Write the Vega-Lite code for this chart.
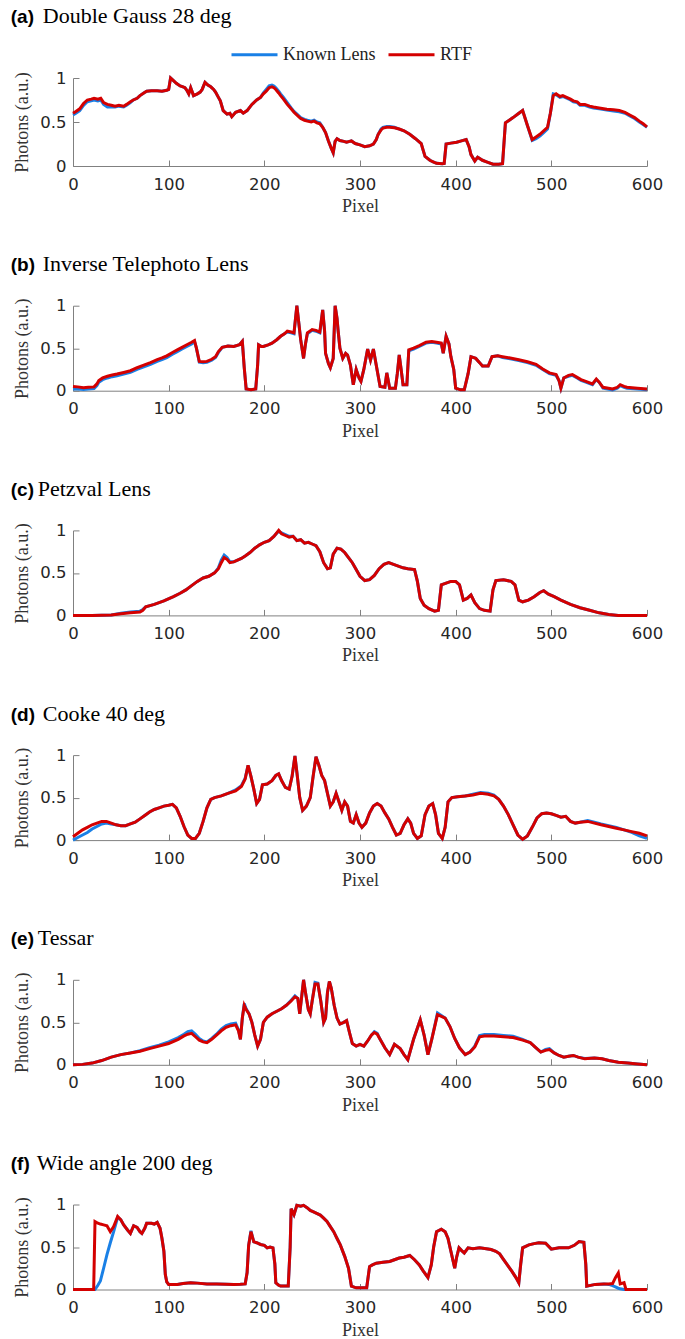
{
"$schema":"https://vega.github.io/schema/vega-lite/v6.json",
"background":"white",
"padding":{"left":10,"top":5,"right":5,"bottom":3},
"spacing":36.7,
"resolve":{"scale":{"color":"independent"}},
"config":{
"view":{"stroke":null},
"axis":{"grid":false,"labelFlush":false,"domainColor":"#808080","domainWidth":1,"tickColor":"#808080","tickWidth":1,"tickSize":-6,"labelFont":"DejaVu Sans","labelFontSize":16.5,"labelColor":"#262626","titleFont":"Liberation Serif","titleFontSize":18,"titleFontWeight":"normal","titleColor":"#333333"},
"axisX":{"labelPadding":16,"titlePadding":5},
"axisY":{"labelPadding":13,"titlePadding":8},
"title":{"anchor":"start","frame":"bounds","font":"Liberation Serif","fontSize":22,"fontWeight":"normal","color":"#000000","subtitleFont":"Liberation Sans","subtitleFontSize":19,"subtitleFontWeight":"bold","subtitleColor":"#000000","subtitlePadding":-20,"offset":21.5},
"legend":{"orient":"none","legendX":157,"legendY":-48,"direction":"horizontal","labelFont":"Liberation Serif","labelFontSize":18,"labelColor":"#222222","symbolType":"stroke","symbolSize":2116,"symbolStrokeWidth":3,"labelOffset":4,"columnPadding":6,"padding":0},
"style":{"group-subtitle":{"dx":-3},"ta":{"dx":29},"tb":{"dx":29},"tc":{"dx":24},"td":{"dx":29},"te":{"dx":24},"tf":{"dx":23}}
},
"datasets":{"d":[
{"p":"a","x":0,"k":0.58,"r":0.6},{"p":"a","x":3,"k":0.6,"r":0.62},{"p":"a","x":7,"k":0.63,"r":0.65},{"p":"a","x":11,"k":0.69,"r":0.71},{"p":"a","x":15,"k":0.73,"r":0.75},{"p":"a","x":19,"k":0.74,"r":0.76},{"p":"a","x":22,"k":0.75,"r":0.77},{"p":"a","x":26,"k":0.74,"r":0.76},{"p":"a","x":29,"k":0.75,"r":0.77},{"p":"a","x":32,"k":0.7,"r":0.72},{"p":"a","x":36,"k":0.67,"r":0.7},{"p":"a","x":40,"k":0.67,"r":0.69},{"p":"a","x":44,"k":0.67,"r":0.68},{"p":"a","x":48,"k":0.68,"r":0.69},{"p":"a","x":53,"k":0.67,"r":0.68},{"p":"a","x":56,"k":0.69,"r":0.7},{"p":"a","x":60,"k":0.72,"r":0.73},{"p":"a","x":63,"k":0.75,"r":0.75},{"p":"a","x":67,"k":0.77,"r":0.77},{"p":"a","x":70,"k":0.8,"r":0.8},{"p":"a","x":74,"k":0.83,"r":0.83},{"p":"a","x":77,"k":0.85,"r":0.85},{"p":"a","x":82,"k":0.855,"r":0.855},{"p":"a","x":88,"k":0.855,"r":0.855},{"p":"a","x":93,"k":0.85,"r":0.85},{"p":"a","x":98,"k":0.86,"r":0.86},{"p":"a","x":100,"k":0.87,"r":0.87},{"p":"a","x":102,"k":1.0,"r":1.0},{"p":"a","x":105,"k":0.97,"r":0.97},{"p":"a","x":108,"k":0.94,"r":0.94},{"p":"a","x":112,"k":0.91,"r":0.91},{"p":"a","x":115,"k":0.9,"r":0.9},{"p":"a","x":117,"k":0.89,"r":0.89},{"p":"a","x":119,"k":0.86,"r":0.86},{"p":"a","x":121,"k":0.82,"r":0.82},{"p":"a","x":123,"k":0.89,"r":0.89},{"p":"a","x":126,"k":0.8,"r":0.8},{"p":"a","x":130,"k":0.82,"r":0.82},{"p":"a","x":133,"k":0.84,"r":0.84},{"p":"a","x":135,"k":0.87,"r":0.87},{"p":"a","x":138,"k":0.95,"r":0.95},{"p":"a","x":141,"k":0.92,"r":0.92},{"p":"a","x":144,"k":0.9,"r":0.9},{"p":"a","x":147,"k":0.87,"r":0.87},{"p":"a","x":149,"k":0.84,"r":0.84},{"p":"a","x":152,"k":0.78,"r":0.78},{"p":"a","x":154,"k":0.74,"r":0.74},{"p":"a","x":157,"k":0.63,"r":0.63},{"p":"a","x":161,"k":0.59,"r":0.59},{"p":"a","x":164,"k":0.6,"r":0.6},{"p":"a","x":166,"k":0.56,"r":0.56},{"p":"a","x":170,"k":0.61,"r":0.61},{"p":"a","x":175,"k":0.63,"r":0.63},{"p":"a","x":178,"k":0.6,"r":0.6},{"p":"a","x":182,"k":0.63,"r":0.63},{"p":"a","x":187,"k":0.7,"r":0.7},{"p":"a","x":192,"k":0.75,"r":0.75},{"p":"a","x":196,"k":0.78,"r":0.78},{"p":"a","x":199,"k":0.83,"r":0.82},{"p":"a","x":202,"k":0.87,"r":0.85},{"p":"a","x":205,"k":0.91,"r":0.89},{"p":"a","x":208,"k":0.92,"r":0.9},{"p":"a","x":210,"k":0.91,"r":0.89},{"p":"a","x":212,"k":0.89,"r":0.87},{"p":"a","x":215,"k":0.85,"r":0.83},{"p":"a","x":217,"k":0.82,"r":0.8},{"p":"a","x":220,"k":0.78,"r":0.76},{"p":"a","x":224,"k":0.72,"r":0.7},{"p":"a","x":228,"k":0.66,"r":0.65},{"p":"a","x":231,"k":0.62,"r":0.61},{"p":"a","x":235,"k":0.58,"r":0.57},{"p":"a","x":238,"k":0.55,"r":0.54},{"p":"a","x":242,"k":0.53,"r":0.52},{"p":"a","x":245,"k":0.52,"r":0.51},{"p":"a","x":249,"k":0.51,"r":0.5},{"p":"a","x":252,"k":0.52,"r":0.51},{"p":"a","x":255,"k":0.5,"r":0.49},{"p":"a","x":258,"k":0.49,"r":0.48},{"p":"a","x":261,"k":0.44,"r":0.44},{"p":"a","x":264,"k":0.38,"r":0.38},{"p":"a","x":267,"k":0.285,"r":0.285},{"p":"a","x":270,"k":0.2,"r":0.2},{"p":"a","x":272,"k":0.15,"r":0.15},{"p":"a","x":274,"k":0.28,"r":0.28},{"p":"a","x":276,"k":0.31,"r":0.31},{"p":"a","x":279,"k":0.29,"r":0.29},{"p":"a","x":283,"k":0.28,"r":0.28},{"p":"a","x":286,"k":0.27,"r":0.27},{"p":"a","x":289,"k":0.28,"r":0.28},{"p":"a","x":291,"k":0.285,"r":0.285},{"p":"a","x":295,"k":0.255,"r":0.255},{"p":"a","x":300,"k":0.24,"r":0.24},{"p":"a","x":305,"k":0.22,"r":0.22},{"p":"a","x":310,"k":0.23,"r":0.23},{"p":"a","x":314,"k":0.25,"r":0.25},{"p":"a","x":317,"k":0.3,"r":0.3},{"p":"a","x":319,"k":0.36,"r":0.36},{"p":"a","x":322,"k":0.42,"r":0.41},{"p":"a","x":324,"k":0.44,"r":0.43},{"p":"a","x":328,"k":0.45,"r":0.44},{"p":"a","x":331,"k":0.45,"r":0.44},{"p":"a","x":336,"k":0.44,"r":0.435},{"p":"a","x":341,"k":0.42,"r":0.42},{"p":"a","x":346,"k":0.4,"r":0.4},{"p":"a","x":352,"k":0.36,"r":0.36},{"p":"a","x":358,"k":0.31,"r":0.31},{"p":"a","x":364,"k":0.255,"r":0.255},{"p":"a","x":366,"k":0.18,"r":0.18},{"p":"a","x":368,"k":0.11,"r":0.11},{"p":"a","x":373,"k":0.065,"r":0.065},{"p":"a","x":377,"k":0.045,"r":0.045},{"p":"a","x":380,"k":0.03,"r":0.03},{"p":"a","x":386,"k":0.027,"r":0.027},{"p":"a","x":388,"k":0.03,"r":0.03},{"p":"a","x":390,"k":0.25,"r":0.25},{"p":"a","x":395,"k":0.26,"r":0.26},{"p":"a","x":401,"k":0.27,"r":0.27},{"p":"a","x":406,"k":0.285,"r":0.285},{"p":"a","x":411,"k":0.3,"r":0.3},{"p":"a","x":414,"k":0.22,"r":0.22},{"p":"a","x":416,"k":0.13,"r":0.13},{"p":"a","x":420,"k":0.057,"r":0.057},{"p":"a","x":423,"k":0.1,"r":0.1},{"p":"a","x":428,"k":0.065,"r":0.065},{"p":"a","x":433,"k":0.045,"r":0.045},{"p":"a","x":439,"k":0.02,"r":0.02},{"p":"a","x":445,"k":0.02,"r":0.02},{"p":"a","x":449,"k":0.027,"r":0.027},{"p":"a","x":452,"k":0.49,"r":0.49},{"p":"a","x":456,"k":0.52,"r":0.52},{"p":"a","x":460,"k":0.55,"r":0.55},{"p":"a","x":465,"k":0.59,"r":0.59},{"p":"a","x":470,"k":0.63,"r":0.63},{"p":"a","x":475,"k":0.46,"r":0.46},{"p":"a","x":480,"k":0.29,"r":0.3},{"p":"a","x":484,"k":0.31,"r":0.33},{"p":"a","x":488,"k":0.34,"r":0.36},{"p":"a","x":492,"k":0.38,"r":0.4},{"p":"a","x":496,"k":0.42,"r":0.44},{"p":"a","x":499,"k":0.6,"r":0.6},{"p":"a","x":502,"k":0.82,"r":0.8},{"p":"a","x":505,"k":0.81,"r":0.82},{"p":"a","x":509,"k":0.78,"r":0.79},{"p":"a","x":512,"k":0.79,"r":0.8},{"p":"a","x":516,"k":0.77,"r":0.78},{"p":"a","x":520,"k":0.75,"r":0.76},{"p":"a","x":523,"k":0.73,"r":0.74},{"p":"a","x":527,"k":0.72,"r":0.73},{"p":"a","x":530,"k":0.69,"r":0.7},{"p":"a","x":535,"k":0.69,"r":0.7},{"p":"a","x":540,"k":0.67,"r":0.68},{"p":"a","x":544,"k":0.66,"r":0.67},{"p":"a","x":550,"k":0.65,"r":0.66},{"p":"a","x":558,"k":0.635,"r":0.645},{"p":"a","x":565,"k":0.625,"r":0.64},{"p":"a","x":571,"k":0.615,"r":0.63},{"p":"a","x":577,"k":0.6,"r":0.61},{"p":"a","x":582,"k":0.57,"r":0.58},{"p":"a","x":587,"k":0.54,"r":0.55},{"p":"a","x":592,"k":0.5,"r":0.51},{"p":"a","x":596,"k":0.47,"r":0.48},{"p":"a","x":600,"k":0.44,"r":0.445},
{"p":"b","x":0,"k":0.02,"r":0.05},{"p":"b","x":5,"k":0.02,"r":0.045},{"p":"b","x":11,"k":0.015,"r":0.035},{"p":"b","x":16,"k":0.02,"r":0.04},{"p":"b","x":22,"k":0.025,"r":0.045},{"p":"b","x":25,"k":0.06,"r":0.08},{"p":"b","x":27,"k":0.1,"r":0.12},{"p":"b","x":31,"k":0.13,"r":0.15},{"p":"b","x":36,"k":0.15,"r":0.17},{"p":"b","x":41,"k":0.165,"r":0.185},{"p":"b","x":46,"k":0.175,"r":0.196},{"p":"b","x":53,"k":0.195,"r":0.215},{"p":"b","x":60,"k":0.215,"r":0.235},{"p":"b","x":67,"k":0.25,"r":0.27},{"p":"b","x":74,"k":0.28,"r":0.3},{"p":"b","x":81,"k":0.31,"r":0.33},{"p":"b","x":88,"k":0.345,"r":0.365},{"p":"b","x":93,"k":0.365,"r":0.385},{"p":"b","x":98,"k":0.39,"r":0.41},{"p":"b","x":104,"k":0.43,"r":0.45},{"p":"b","x":109,"k":0.46,"r":0.48},{"p":"b","x":114,"k":0.49,"r":0.51},{"p":"b","x":119,"k":0.52,"r":0.54},{"p":"b","x":124,"k":0.55,"r":0.57},{"p":"b","x":127,"k":0.58,"r":0.59},{"p":"b","x":129,"k":0.5,"r":0.5},{"p":"b","x":132,"k":0.335,"r":0.345},{"p":"b","x":136,"k":0.33,"r":0.34},{"p":"b","x":140,"k":0.335,"r":0.345},{"p":"b","x":145,"k":0.36,"r":0.37},{"p":"b","x":149,"k":0.39,"r":0.4},{"p":"b","x":152,"k":0.45,"r":0.46},{"p":"b","x":156,"k":0.51,"r":0.51},{"p":"b","x":162,"k":0.525,"r":0.525},{"p":"b","x":168,"k":0.52,"r":0.52},{"p":"b","x":174,"k":0.54,"r":0.54},{"p":"b","x":177,"k":0.58,"r":0.58},{"p":"b","x":179,"k":0.27,"r":0.27},{"p":"b","x":181,"k":0.02,"r":0.02},{"p":"b","x":186,"k":0.01,"r":0.01},{"p":"b","x":191,"k":0.02,"r":0.02},{"p":"b","x":193,"k":0.3,"r":0.3},{"p":"b","x":194,"k":0.54,"r":0.54},{"p":"b","x":197,"k":0.52,"r":0.52},{"p":"b","x":199,"k":0.52,"r":0.52},{"p":"b","x":204,"k":0.54,"r":0.54},{"p":"b","x":208,"k":0.56,"r":0.56},{"p":"b","x":213,"k":0.6,"r":0.6},{"p":"b","x":217,"k":0.64,"r":0.64},{"p":"b","x":221,"k":0.67,"r":0.67},{"p":"b","x":224,"k":0.69,"r":0.7},{"p":"b","x":228,"k":0.68,"r":0.69},{"p":"b","x":231,"k":0.67,"r":0.68},{"p":"b","x":234,"k":1.0,"r":1.0},{"p":"b","x":236,"k":0.8,"r":0.8},{"p":"b","x":238,"k":0.6,"r":0.6},{"p":"b","x":241,"k":0.38,"r":0.38},{"p":"b","x":243,"k":0.55,"r":0.55},{"p":"b","x":245,"k":0.67,"r":0.68},{"p":"b","x":250,"k":0.71,"r":0.72},{"p":"b","x":254,"k":0.7,"r":0.71},{"p":"b","x":258,"k":0.68,"r":0.69},{"p":"b","x":261,"k":0.95,"r":0.95},{"p":"b","x":263,"k":0.7,"r":0.7},{"p":"b","x":264,"k":0.44,"r":0.44},{"p":"b","x":267,"k":0.32,"r":0.32},{"p":"b","x":269,"k":0.27,"r":0.27},{"p":"b","x":272,"k":0.38,"r":0.38},{"p":"b","x":274,"k":1.0,"r":1.0},{"p":"b","x":276,"k":0.85,"r":0.85},{"p":"b","x":277,"k":0.72,"r":0.72},{"p":"b","x":279,"k":0.5,"r":0.5},{"p":"b","x":282,"k":0.38,"r":0.38},{"p":"b","x":285,"k":0.44,"r":0.44},{"p":"b","x":287,"k":0.42,"r":0.42},{"p":"b","x":290,"k":0.3,"r":0.3},{"p":"b","x":293,"k":0.07,"r":0.07},{"p":"b","x":296,"k":0.25,"r":0.25},{"p":"b","x":299,"k":0.15,"r":0.15},{"p":"b","x":301,"k":0.11,"r":0.11},{"p":"b","x":304,"k":0.25,"r":0.25},{"p":"b","x":308,"k":0.49,"r":0.49},{"p":"b","x":311,"k":0.36,"r":0.36},{"p":"b","x":314,"k":0.49,"r":0.49},{"p":"b","x":317,"k":0.3,"r":0.3},{"p":"b","x":321,"k":0.05,"r":0.05},{"p":"b","x":326,"k":0.04,"r":0.04},{"p":"b","x":328,"k":0.21,"r":0.21},{"p":"b","x":331,"k":0.03,"r":0.03},{"p":"b","x":337,"k":0.03,"r":0.03},{"p":"b","x":339,"k":0.2,"r":0.2},{"p":"b","x":341,"k":0.42,"r":0.42},{"p":"b","x":343,"k":0.25,"r":0.25},{"p":"b","x":345,"k":0.07,"r":0.07},{"p":"b","x":349,"k":0.07,"r":0.07},{"p":"b","x":351,"k":0.47,"r":0.48},{"p":"b","x":356,"k":0.49,"r":0.5},{"p":"b","x":362,"k":0.52,"r":0.53},{"p":"b","x":369,"k":0.56,"r":0.57},{"p":"b","x":375,"k":0.57,"r":0.58},{"p":"b","x":380,"k":0.56,"r":0.57},{"p":"b","x":385,"k":0.55,"r":0.56},{"p":"b","x":387,"k":0.44,"r":0.44},{"p":"b","x":390,"k":0.64,"r":0.64},{"p":"b","x":393,"k":0.55,"r":0.55},{"p":"b","x":395,"k":0.4,"r":0.4},{"p":"b","x":398,"k":0.25,"r":0.25},{"p":"b","x":400,"k":0.03,"r":0.03},{"p":"b","x":405,"k":0.01,"r":0.01},{"p":"b","x":409,"k":0.01,"r":0.01},{"p":"b","x":413,"k":0.2,"r":0.2},{"p":"b","x":416,"k":0.4,"r":0.4},{"p":"b","x":421,"k":0.38,"r":0.38},{"p":"b","x":425,"k":0.33,"r":0.33},{"p":"b","x":428,"k":0.29,"r":0.29},{"p":"b","x":434,"k":0.29,"r":0.29},{"p":"b","x":438,"k":0.4,"r":0.4},{"p":"b","x":444,"k":0.41,"r":0.41},{"p":"b","x":449,"k":0.39,"r":0.4},{"p":"b","x":457,"k":0.375,"r":0.385},{"p":"b","x":466,"k":0.355,"r":0.365},{"p":"b","x":475,"k":0.33,"r":0.34},{"p":"b","x":484,"k":0.3,"r":0.31},{"p":"b","x":491,"k":0.25,"r":0.255},{"p":"b","x":498,"k":0.2,"r":0.21},{"p":"b","x":505,"k":0.18,"r":0.19},{"p":"b","x":508,"k":0.12,"r":0.12},{"p":"b","x":510,"k":0.03,"r":0.03},{"p":"b","x":513,"k":0.15,"r":0.15},{"p":"b","x":518,"k":0.17,"r":0.18},{"p":"b","x":522,"k":0.18,"r":0.19},{"p":"b","x":527,"k":0.15,"r":0.157},{"p":"b","x":531,"k":0.12,"r":0.13},{"p":"b","x":536,"k":0.1,"r":0.11},{"p":"b","x":543,"k":0.07,"r":0.08},{"p":"b","x":547,"k":0.13,"r":0.137},{"p":"b","x":550,"k":0.1,"r":0.1},{"p":"b","x":554,"k":0.03,"r":0.04},{"p":"b","x":564,"k":0.01,"r":0.02},{"p":"b","x":569,"k":0.03,"r":0.04},{"p":"b","x":572,"k":0.06,"r":0.07},{"p":"b","x":576,"k":0.04,"r":0.05},{"p":"b","x":579,"k":0.03,"r":0.04},{"p":"b","x":590,"k":0.02,"r":0.03},{"p":"b","x":600,"k":0.01,"r":0.02},
{"p":"c","x":0,"k":0,"r":0},{"p":"c","x":20,"k":0,"r":0},{"p":"c","x":40,"k":0.005,"r":0.005},{"p":"c","x":50,"k":0.025,"r":0.02},{"p":"c","x":60,"k":0.04,"r":0.03},{"p":"c","x":70,"k":0.05,"r":0.04},{"p":"c","x":73,"k":0.07,"r":0.06},{"p":"c","x":76,"k":0.1,"r":0.1},{"p":"c","x":85,"k":0.13,"r":0.13},{"p":"c","x":95,"k":0.17,"r":0.17},{"p":"c","x":105,"k":0.22,"r":0.22},{"p":"c","x":112,"k":0.26,"r":0.26},{"p":"c","x":118,"k":0.3,"r":0.3},{"p":"c","x":124,"k":0.35,"r":0.35},{"p":"c","x":130,"k":0.4,"r":0.4},{"p":"c","x":136,"k":0.44,"r":0.44},{"p":"c","x":142,"k":0.46,"r":0.46},{"p":"c","x":148,"k":0.5,"r":0.5},{"p":"c","x":152,"k":0.56,"r":0.55},{"p":"c","x":155,"k":0.65,"r":0.62},{"p":"c","x":158,"k":0.71,"r":0.68},{"p":"c","x":161,"k":0.68,"r":0.66},{"p":"c","x":164,"k":0.63,"r":0.62},{"p":"c","x":168,"k":0.63,"r":0.63},{"p":"c","x":172,"k":0.65,"r":0.65},{"p":"c","x":176,"k":0.67,"r":0.67},{"p":"c","x":180,"k":0.7,"r":0.7},{"p":"c","x":185,"k":0.74,"r":0.74},{"p":"c","x":190,"k":0.79,"r":0.79},{"p":"c","x":195,"k":0.83,"r":0.83},{"p":"c","x":200,"k":0.86,"r":0.86},{"p":"c","x":205,"k":0.88,"r":0.88},{"p":"c","x":210,"k":0.93,"r":0.93},{"p":"c","x":215,"k":0.99,"r":1.0},{"p":"c","x":218,"k":0.97,"r":0.96},{"p":"c","x":222,"k":0.95,"r":0.94},{"p":"c","x":226,"k":0.93,"r":0.92},{"p":"c","x":230,"k":0.93,"r":0.93},{"p":"c","x":234,"k":0.88,"r":0.88},{"p":"c","x":238,"k":0.89,"r":0.89},{"p":"c","x":242,"k":0.85,"r":0.85},{"p":"c","x":246,"k":0.86,"r":0.86},{"p":"c","x":250,"k":0.84,"r":0.84},{"p":"c","x":254,"k":0.82,"r":0.82},{"p":"c","x":258,"k":0.75,"r":0.75},{"p":"c","x":262,"k":0.62,"r":0.62},{"p":"c","x":266,"k":0.55,"r":0.55},{"p":"c","x":269,"k":0.56,"r":0.56},{"p":"c","x":272,"k":0.72,"r":0.72},{"p":"c","x":276,"k":0.79,"r":0.79},{"p":"c","x":280,"k":0.78,"r":0.78},{"p":"c","x":284,"k":0.74,"r":0.74},{"p":"c","x":288,"k":0.68,"r":0.68},{"p":"c","x":292,"k":0.62,"r":0.62},{"p":"c","x":296,"k":0.54,"r":0.54},{"p":"c","x":300,"k":0.46,"r":0.46},{"p":"c","x":305,"k":0.41,"r":0.41},{"p":"c","x":310,"k":0.42,"r":0.42},{"p":"c","x":315,"k":0.47,"r":0.47},{"p":"c","x":320,"k":0.55,"r":0.55},{"p":"c","x":325,"k":0.6,"r":0.6},{"p":"c","x":330,"k":0.62,"r":0.62},{"p":"c","x":335,"k":0.6,"r":0.6},{"p":"c","x":340,"k":0.58,"r":0.58},{"p":"c","x":345,"k":0.56,"r":0.56},{"p":"c","x":350,"k":0.55,"r":0.55},{"p":"c","x":357,"k":0.54,"r":0.54},{"p":"c","x":360,"k":0.4,"r":0.4},{"p":"c","x":363,"k":0.2,"r":0.2},{"p":"c","x":367,"k":0.12,"r":0.12},{"p":"c","x":372,"k":0.08,"r":0.08},{"p":"c","x":378,"k":0.05,"r":0.05},{"p":"c","x":382,"k":0.06,"r":0.06},{"p":"c","x":385,"k":0.36,"r":0.36},{"p":"c","x":390,"k":0.38,"r":0.38},{"p":"c","x":395,"k":0.4,"r":0.4},{"p":"c","x":400,"k":0.4,"r":0.4},{"p":"c","x":404,"k":0.36,"r":0.36},{"p":"c","x":408,"k":0.18,"r":0.18},{"p":"c","x":412,"k":0.2,"r":0.2},{"p":"c","x":416,"k":0.24,"r":0.24},{"p":"c","x":420,"k":0.15,"r":0.15},{"p":"c","x":425,"k":0.08,"r":0.08},{"p":"c","x":430,"k":0.06,"r":0.06},{"p":"c","x":436,"k":0.05,"r":0.05},{"p":"c","x":439,"k":0.3,"r":0.3},{"p":"c","x":442,"k":0.41,"r":0.41},{"p":"c","x":450,"k":0.42,"r":0.42},{"p":"c","x":458,"k":0.4,"r":0.4},{"p":"c","x":462,"k":0.36,"r":0.36},{"p":"c","x":466,"k":0.18,"r":0.18},{"p":"c","x":470,"k":0.16,"r":0.16},{"p":"c","x":476,"k":0.18,"r":0.18},{"p":"c","x":482,"k":0.22,"r":0.22},{"p":"c","x":488,"k":0.27,"r":0.27},{"p":"c","x":492,"k":0.29,"r":0.29},{"p":"c","x":497,"k":0.25,"r":0.25},{"p":"c","x":503,"k":0.22,"r":0.22},{"p":"c","x":510,"k":0.18,"r":0.18},{"p":"c","x":520,"k":0.13,"r":0.13},{"p":"c","x":530,"k":0.09,"r":0.09},{"p":"c","x":540,"k":0.06,"r":0.06},{"p":"c","x":550,"k":0.03,"r":0.03},{"p":"c","x":560,"k":0.01,"r":0.01},{"p":"c","x":570,"k":0,"r":0},{"p":"c","x":600,"k":0,"r":0},
{"p":"d","x":0,"k":0.0,"r":0.04},{"p":"d","x":5,"k":0.03,"r":0.08},{"p":"d","x":10,"k":0.06,"r":0.12},{"p":"d","x":15,"k":0.09,"r":0.15},{"p":"d","x":20,"k":0.13,"r":0.18},{"p":"d","x":25,"k":0.16,"r":0.2},{"p":"d","x":30,"k":0.19,"r":0.22},{"p":"d","x":35,"k":0.2,"r":0.22},{"p":"d","x":40,"k":0.19,"r":0.2},{"p":"d","x":45,"k":0.18,"r":0.18},{"p":"d","x":50,"k":0.17,"r":0.17},{"p":"d","x":55,"k":0.17,"r":0.17},{"p":"d","x":60,"k":0.19,"r":0.19},{"p":"d","x":65,"k":0.21,"r":0.21},{"p":"d","x":70,"k":0.25,"r":0.25},{"p":"d","x":75,"k":0.29,"r":0.29},{"p":"d","x":80,"k":0.33,"r":0.33},{"p":"d","x":85,"k":0.36,"r":0.36},{"p":"d","x":90,"k":0.38,"r":0.38},{"p":"d","x":95,"k":0.4,"r":0.4},{"p":"d","x":100,"k":0.41,"r":0.41},{"p":"d","x":104,"k":0.42,"r":0.42},{"p":"d","x":108,"k":0.38,"r":0.38},{"p":"d","x":112,"k":0.28,"r":0.28},{"p":"d","x":116,"k":0.16,"r":0.16},{"p":"d","x":120,"k":0.06,"r":0.06},{"p":"d","x":124,"k":0.02,"r":0.02},{"p":"d","x":128,"k":0.02,"r":0.02},{"p":"d","x":132,"k":0.08,"r":0.08},{"p":"d","x":136,"k":0.22,"r":0.22},{"p":"d","x":140,"k":0.38,"r":0.38},{"p":"d","x":144,"k":0.48,"r":0.48},{"p":"d","x":148,"k":0.5,"r":0.5},{"p":"d","x":155,"k":0.52,"r":0.52},{"p":"d","x":162,"k":0.55,"r":0.55},{"p":"d","x":170,"k":0.59,"r":0.58},{"p":"d","x":176,"k":0.64,"r":0.63},{"p":"d","x":180,"k":0.73,"r":0.72},{"p":"d","x":183,"k":0.88,"r":0.88},{"p":"d","x":186,"k":0.75,"r":0.75},{"p":"d","x":189,"k":0.6,"r":0.6},{"p":"d","x":192,"k":0.43,"r":0.43},{"p":"d","x":195,"k":0.48,"r":0.48},{"p":"d","x":198,"k":0.65,"r":0.65},{"p":"d","x":203,"k":0.66,"r":0.66},{"p":"d","x":208,"k":0.7,"r":0.7},{"p":"d","x":212,"k":0.76,"r":0.76},{"p":"d","x":215,"k":0.78,"r":0.78},{"p":"d","x":218,"k":0.7,"r":0.7},{"p":"d","x":222,"k":0.62,"r":0.62},{"p":"d","x":226,"k":0.6,"r":0.6},{"p":"d","x":229,"k":0.75,"r":0.75},{"p":"d","x":232,"k":0.99,"r":0.99},{"p":"d","x":234,"k":0.8,"r":0.8},{"p":"d","x":237,"k":0.5,"r":0.5},{"p":"d","x":240,"k":0.35,"r":0.35},{"p":"d","x":244,"k":0.4,"r":0.4},{"p":"d","x":248,"k":0.5,"r":0.5},{"p":"d","x":251,"k":0.75,"r":0.75},{"p":"d","x":254,"k":0.98,"r":0.98},{"p":"d","x":257,"k":0.88,"r":0.88},{"p":"d","x":260,"k":0.76,"r":0.76},{"p":"d","x":263,"k":0.7,"r":0.7},{"p":"d","x":266,"k":0.55,"r":0.55},{"p":"d","x":269,"k":0.4,"r":0.4},{"p":"d","x":272,"k":0.45,"r":0.45},{"p":"d","x":275,"k":0.55,"r":0.55},{"p":"d","x":278,"k":0.45,"r":0.45},{"p":"d","x":281,"k":0.35,"r":0.35},{"p":"d","x":284,"k":0.45,"r":0.45},{"p":"d","x":287,"k":0.4,"r":0.4},{"p":"d","x":290,"k":0.22,"r":0.22},{"p":"d","x":293,"k":0.2,"r":0.2},{"p":"d","x":296,"k":0.3,"r":0.3},{"p":"d","x":299,"k":0.2,"r":0.2},{"p":"d","x":302,"k":0.15,"r":0.15},{"p":"d","x":306,"k":0.2,"r":0.2},{"p":"d","x":310,"k":0.32,"r":0.32},{"p":"d","x":314,"k":0.4,"r":0.4},{"p":"d","x":318,"k":0.43,"r":0.43},{"p":"d","x":322,"k":0.4,"r":0.4},{"p":"d","x":326,"k":0.32,"r":0.32},{"p":"d","x":330,"k":0.25,"r":0.25},{"p":"d","x":334,"k":0.15,"r":0.15},{"p":"d","x":338,"k":0.06,"r":0.06},{"p":"d","x":342,"k":0.08,"r":0.08},{"p":"d","x":346,"k":0.18,"r":0.18},{"p":"d","x":350,"k":0.25,"r":0.25},{"p":"d","x":353,"k":0.2,"r":0.2},{"p":"d","x":356,"k":0.08,"r":0.08},{"p":"d","x":360,"k":0.02,"r":0.02},{"p":"d","x":364,"k":0.05,"r":0.05},{"p":"d","x":368,"k":0.3,"r":0.3},{"p":"d","x":372,"k":0.4,"r":0.4},{"p":"d","x":376,"k":0.43,"r":0.43},{"p":"d","x":379,"k":0.3,"r":0.3},{"p":"d","x":382,"k":0.08,"r":0.08},{"p":"d","x":386,"k":0.02,"r":0.02},{"p":"d","x":389,"k":0.15,"r":0.15},{"p":"d","x":392,"k":0.45,"r":0.45},{"p":"d","x":396,"k":0.5,"r":0.5},{"p":"d","x":402,"k":0.51,"r":0.51},{"p":"d","x":410,"k":0.52,"r":0.52},{"p":"d","x":418,"k":0.54,"r":0.53},{"p":"d","x":426,"k":0.56,"r":0.55},{"p":"d","x":434,"k":0.55,"r":0.54},{"p":"d","x":440,"k":0.53,"r":0.52},{"p":"d","x":445,"k":0.48,"r":0.48},{"p":"d","x":450,"k":0.4,"r":0.4},{"p":"d","x":455,"k":0.3,"r":0.3},{"p":"d","x":460,"k":0.18,"r":0.18},{"p":"d","x":465,"k":0.06,"r":0.06},{"p":"d","x":470,"k":0.01,"r":0.01},{"p":"d","x":475,"k":0.05,"r":0.05},{"p":"d","x":480,"k":0.15,"r":0.15},{"p":"d","x":485,"k":0.26,"r":0.26},{"p":"d","x":490,"k":0.31,"r":0.31},{"p":"d","x":495,"k":0.32,"r":0.32},{"p":"d","x":500,"k":0.31,"r":0.31},{"p":"d","x":505,"k":0.29,"r":0.29},{"p":"d","x":510,"k":0.27,"r":0.27},{"p":"d","x":515,"k":0.28,"r":0.28},{"p":"d","x":520,"k":0.22,"r":0.22},{"p":"d","x":525,"k":0.2,"r":0.2},{"p":"d","x":530,"k":0.21,"r":0.21},{"p":"d","x":538,"k":0.23,"r":0.22},{"p":"d","x":545,"k":0.21,"r":0.2},{"p":"d","x":552,"k":0.19,"r":0.18},{"p":"d","x":560,"k":0.17,"r":0.16},{"p":"d","x":568,"k":0.15,"r":0.14},{"p":"d","x":576,"k":0.12,"r":0.12},{"p":"d","x":584,"k":0.09,"r":0.1},{"p":"d","x":592,"k":0.05,"r":0.08},{"p":"d","x":600,"k":0.02,"r":0.05},
{"p":"e","x":0,"k":0,"r":0},{"p":"e","x":10,"k":0.005,"r":0.005},{"p":"e","x":20,"k":0.02,"r":0.02},{"p":"e","x":30,"k":0.05,"r":0.05},{"p":"e","x":40,"k":0.09,"r":0.09},{"p":"e","x":50,"k":0.12,"r":0.12},{"p":"e","x":60,"k":0.14,"r":0.14},{"p":"e","x":70,"k":0.165,"r":0.16},{"p":"e","x":80,"k":0.2,"r":0.19},{"p":"e","x":90,"k":0.23,"r":0.22},{"p":"e","x":100,"k":0.27,"r":0.25},{"p":"e","x":110,"k":0.32,"r":0.3},{"p":"e","x":116,"k":0.36,"r":0.34},{"p":"e","x":120,"k":0.39,"r":0.36},{"p":"e","x":124,"k":0.4,"r":0.37},{"p":"e","x":128,"k":0.36,"r":0.33},{"p":"e","x":132,"k":0.31,"r":0.29},{"p":"e","x":136,"k":0.28,"r":0.27},{"p":"e","x":140,"k":0.27,"r":0.26},{"p":"e","x":145,"k":0.31,"r":0.3},{"p":"e","x":150,"k":0.36,"r":0.35},{"p":"e","x":155,"k":0.42,"r":0.4},{"p":"e","x":160,"k":0.46,"r":0.44},{"p":"e","x":165,"k":0.48,"r":0.46},{"p":"e","x":170,"k":0.49,"r":0.47},{"p":"e","x":173,"k":0.41,"r":0.4},{"p":"e","x":175,"k":0.3,"r":0.3},{"p":"e","x":177,"k":0.55,"r":0.55},{"p":"e","x":179,"k":0.72,"r":0.7},{"p":"e","x":181,"k":0.66,"r":0.65},{"p":"e","x":184,"k":0.6,"r":0.6},{"p":"e","x":187,"k":0.5,"r":0.5},{"p":"e","x":190,"k":0.35,"r":0.35},{"p":"e","x":193,"k":0.22,"r":0.22},{"p":"e","x":196,"k":0.3,"r":0.3},{"p":"e","x":199,"k":0.5,"r":0.5},{"p":"e","x":203,"k":0.56,"r":0.56},{"p":"e","x":208,"k":0.6,"r":0.6},{"p":"e","x":213,"k":0.63,"r":0.63},{"p":"e","x":218,"k":0.66,"r":0.66},{"p":"e","x":223,"k":0.7,"r":0.7},{"p":"e","x":228,"k":0.76,"r":0.75},{"p":"e","x":232,"k":0.81,"r":0.8},{"p":"e","x":235,"k":0.78,"r":0.78},{"p":"e","x":237,"k":0.6,"r":0.6},{"p":"e","x":239,"k":0.8,"r":0.8},{"p":"e","x":241,"k":1.0,"r":1.0},{"p":"e","x":243,"k":0.85,"r":0.85},{"p":"e","x":246,"k":0.65,"r":0.65},{"p":"e","x":248,"k":0.6,"r":0.6},{"p":"e","x":250,"k":0.75,"r":0.75},{"p":"e","x":253,"k":0.97,"r":0.95},{"p":"e","x":256,"k":0.96,"r":0.95},{"p":"e","x":259,"k":0.75,"r":0.75},{"p":"e","x":262,"k":0.5,"r":0.5},{"p":"e","x":264,"k":0.55,"r":0.55},{"p":"e","x":266,"k":0.85,"r":0.85},{"p":"e","x":268,"k":0.98,"r":0.98},{"p":"e","x":270,"k":0.9,"r":0.9},{"p":"e","x":273,"k":0.7,"r":0.7},{"p":"e","x":276,"k":0.55,"r":0.55},{"p":"e","x":279,"k":0.48,"r":0.48},{"p":"e","x":283,"k":0.5,"r":0.5},{"p":"e","x":286,"k":0.52,"r":0.52},{"p":"e","x":289,"k":0.38,"r":0.38},{"p":"e","x":292,"k":0.25,"r":0.25},{"p":"e","x":296,"k":0.22,"r":0.22},{"p":"e","x":300,"k":0.24,"r":0.24},{"p":"e","x":304,"k":0.22,"r":0.22},{"p":"e","x":308,"k":0.28,"r":0.28},{"p":"e","x":312,"k":0.35,"r":0.35},{"p":"e","x":315,"k":0.39,"r":0.38},{"p":"e","x":318,"k":0.37,"r":0.36},{"p":"e","x":321,"k":0.3,"r":0.3},{"p":"e","x":326,"k":0.2,"r":0.2},{"p":"e","x":331,"k":0.12,"r":0.12},{"p":"e","x":336,"k":0.24,"r":0.24},{"p":"e","x":342,"k":0.19,"r":0.19},{"p":"e","x":346,"k":0.12,"r":0.12},{"p":"e","x":350,"k":0.06,"r":0.06},{"p":"e","x":356,"k":0.3,"r":0.3},{"p":"e","x":363,"k":0.53,"r":0.53},{"p":"e","x":367,"k":0.35,"r":0.35},{"p":"e","x":371,"k":0.12,"r":0.12},{"p":"e","x":375,"k":0.3,"r":0.3},{"p":"e","x":381,"k":0.61,"r":0.59},{"p":"e","x":385,"k":0.58,"r":0.57},{"p":"e","x":389,"k":0.55,"r":0.55},{"p":"e","x":394,"k":0.45,"r":0.45},{"p":"e","x":399,"k":0.31,"r":0.31},{"p":"e","x":404,"k":0.2,"r":0.2},{"p":"e","x":410,"k":0.12,"r":0.12},{"p":"e","x":415,"k":0.15,"r":0.15},{"p":"e","x":420,"k":0.22,"r":0.21},{"p":"e","x":425,"k":0.345,"r":0.33},{"p":"e","x":430,"k":0.355,"r":0.34},{"p":"e","x":440,"k":0.355,"r":0.34},{"p":"e","x":450,"k":0.345,"r":0.33},{"p":"e","x":460,"k":0.335,"r":0.32},{"p":"e","x":470,"k":0.3,"r":0.29},{"p":"e","x":478,"k":0.26,"r":0.26},{"p":"e","x":484,"k":0.2,"r":0.2},{"p":"e","x":489,"k":0.15,"r":0.15},{"p":"e","x":494,"k":0.18,"r":0.17},{"p":"e","x":498,"k":0.19,"r":0.18},{"p":"e","x":503,"k":0.14,"r":0.14},{"p":"e","x":508,"k":0.11,"r":0.11},{"p":"e","x":513,"k":0.09,"r":0.09},{"p":"e","x":518,"k":0.1,"r":0.1},{"p":"e","x":523,"k":0.11,"r":0.11},{"p":"e","x":528,"k":0.09,"r":0.09},{"p":"e","x":535,"k":0.075,"r":0.07},{"p":"e","x":545,"k":0.08,"r":0.08},{"p":"e","x":553,"k":0.07,"r":0.07},{"p":"e","x":560,"k":0.05,"r":0.05},{"p":"e","x":570,"k":0.03,"r":0.03},{"p":"e","x":580,"k":0.02,"r":0.02},{"p":"e","x":590,"k":0.01,"r":0.01},{"p":"e","x":600,"k":0,"r":0},
{"p":"f","x":0,"k":0,"r":0},{"p":"f","x":10,"k":0,"r":0},{"p":"f","x":21.6,"k":0,"r":0},{"p":"f","x":23,"k":0,"r":0.8},{"p":"f","x":26,"k":0.05,"r":0.78},{"p":"f","x":28.6,"k":0.1,"r":0.77},{"p":"f","x":32,"k":0.25,"r":0.76},{"p":"f","x":35.5,"k":0.41,"r":0.75},{"p":"f","x":39,"k":0.55,"r":0.68},{"p":"f","x":42.5,"k":0.68,"r":0.74},{"p":"f","x":46.7,"k":0.85,"r":0.86},{"p":"f","x":50,"k":0.82,"r":0.82},{"p":"f","x":53,"k":0.76,"r":0.76},{"p":"f","x":57,"k":0.7,"r":0.7},{"p":"f","x":60,"k":0.66,"r":0.66},{"p":"f","x":63.4,"k":0.75,"r":0.75},{"p":"f","x":67,"k":0.73,"r":0.73},{"p":"f","x":70,"k":0.68,"r":0.68},{"p":"f","x":72,"k":0.66,"r":0.66},{"p":"f","x":75,"k":0.72,"r":0.72},{"p":"f","x":77,"k":0.78,"r":0.78},{"p":"f","x":82,"k":0.78,"r":0.78},{"p":"f","x":85,"k":0.77,"r":0.77},{"p":"f","x":88,"k":0.79,"r":0.79},{"p":"f","x":91,"k":0.72,"r":0.72},{"p":"f","x":93,"k":0.6,"r":0.6},{"p":"f","x":95,"k":0.45,"r":0.45},{"p":"f","x":96.5,"k":0.175,"r":0.175},{"p":"f","x":98,"k":0.09,"r":0.09},{"p":"f","x":100,"k":0.06,"r":0.06},{"p":"f","x":105,"k":0.06,"r":0.06},{"p":"f","x":109,"k":0.06,"r":0.06},{"p":"f","x":115,"k":0.07,"r":0.07},{"p":"f","x":123,"k":0.078,"r":0.078},{"p":"f","x":130,"k":0.075,"r":0.075},{"p":"f","x":140,"k":0.066,"r":0.066},{"p":"f","x":150,"k":0.065,"r":0.065},{"p":"f","x":160,"k":0.062,"r":0.062},{"p":"f","x":168,"k":0.06,"r":0.06},{"p":"f","x":175,"k":0.062,"r":0.062},{"p":"f","x":180,"k":0.066,"r":0.066},{"p":"f","x":182,"k":0.2,"r":0.2},{"p":"f","x":183.6,"k":0.52,"r":0.52},{"p":"f","x":186,"k":0.69,"r":0.68},{"p":"f","x":189,"k":0.56,"r":0.56},{"p":"f","x":192,"k":0.55,"r":0.55},{"p":"f","x":196,"k":0.53,"r":0.53},{"p":"f","x":200,"k":0.52,"r":0.52},{"p":"f","x":203,"k":0.49,"r":0.49},{"p":"f","x":206,"k":0.5,"r":0.5},{"p":"f","x":209,"k":0.49,"r":0.49},{"p":"f","x":211,"k":0.3,"r":0.3},{"p":"f","x":212,"k":0.078,"r":0.078},{"p":"f","x":215,"k":0.05,"r":0.05},{"p":"f","x":217,"k":0.04,"r":0.04},{"p":"f","x":222,"k":0.04,"r":0.04},{"p":"f","x":225,"k":0.04,"r":0.04},{"p":"f","x":227,"k":0.5,"r":0.5},{"p":"f","x":228,"k":0.95,"r":0.95},{"p":"f","x":231,"k":0.88,"r":0.88},{"p":"f","x":234,"k":0.99,"r":0.99},{"p":"f","x":238,"k":0.98,"r":0.98},{"p":"f","x":241,"k":0.99,"r":0.99},{"p":"f","x":245,"k":0.96,"r":0.96},{"p":"f","x":248,"k":0.93,"r":0.93},{"p":"f","x":252,"k":0.91,"r":0.91},{"p":"f","x":258.5,"k":0.875,"r":0.875},{"p":"f","x":262,"k":0.84,"r":0.84},{"p":"f","x":265.5,"k":0.8,"r":0.8},{"p":"f","x":269,"k":0.74,"r":0.74},{"p":"f","x":272.5,"k":0.68,"r":0.68},{"p":"f","x":276,"k":0.6,"r":0.6},{"p":"f","x":279.4,"k":0.525,"r":0.525},{"p":"f","x":284,"k":0.39,"r":0.39},{"p":"f","x":288,"k":0.25,"r":0.25},{"p":"f","x":291,"k":0.04,"r":0.04},{"p":"f","x":296,"k":0.02,"r":0.02},{"p":"f","x":302,"k":0.02,"r":0.02},{"p":"f","x":307,"k":0.02,"r":0.02},{"p":"f","x":310,"k":0.27,"r":0.27},{"p":"f","x":313,"k":0.29,"r":0.29},{"p":"f","x":317,"k":0.31,"r":0.31},{"p":"f","x":324,"k":0.32,"r":0.32},{"p":"f","x":331,"k":0.33,"r":0.33},{"p":"f","x":336,"k":0.35,"r":0.35},{"p":"f","x":341,"k":0.37,"r":0.37},{"p":"f","x":346,"k":0.38,"r":0.38},{"p":"f","x":352,"k":0.4,"r":0.4},{"p":"f","x":357,"k":0.35,"r":0.35},{"p":"f","x":362,"k":0.29,"r":0.29},{"p":"f","x":366,"k":0.22,"r":0.22},{"p":"f","x":371,"k":0.14,"r":0.14},{"p":"f","x":374.5,"k":0.29,"r":0.29},{"p":"f","x":377,"k":0.5,"r":0.5},{"p":"f","x":380,"k":0.68,"r":0.68},{"p":"f","x":385,"k":0.71,"r":0.71},{"p":"f","x":389,"k":0.68,"r":0.68},{"p":"f","x":392,"k":0.6,"r":0.6},{"p":"f","x":395,"k":0.45,"r":0.45},{"p":"f","x":399,"k":0.25,"r":0.25},{"p":"f","x":401,"k":0.38,"r":0.38},{"p":"f","x":403.5,"k":0.49,"r":0.49},{"p":"f","x":406,"k":0.46,"r":0.46},{"p":"f","x":409,"k":0.43,"r":0.43},{"p":"f","x":413,"k":0.49,"r":0.49},{"p":"f","x":418,"k":0.48,"r":0.48},{"p":"f","x":425,"k":0.49,"r":0.49},{"p":"f","x":432,"k":0.48,"r":0.48},{"p":"f","x":437,"k":0.47,"r":0.47},{"p":"f","x":442,"k":0.45,"r":0.45},{"p":"f","x":446,"k":0.42,"r":0.42},{"p":"f","x":449,"k":0.37,"r":0.37},{"p":"f","x":454,"k":0.29,"r":0.29},{"p":"f","x":459,"k":0.21,"r":0.21},{"p":"f","x":463,"k":0.14,"r":0.14},{"p":"f","x":466,"k":0.078,"r":0.078},{"p":"f","x":468,"k":0.3,"r":0.3},{"p":"f","x":470,"k":0.49,"r":0.49},{"p":"f","x":476.5,"k":0.525,"r":0.525},{"p":"f","x":482,"k":0.54,"r":0.54},{"p":"f","x":487,"k":0.55,"r":0.55},{"p":"f","x":494,"k":0.545,"r":0.545},{"p":"f","x":500,"k":0.475,"r":0.475},{"p":"f","x":508,"k":0.49,"r":0.49},{"p":"f","x":513,"k":0.49,"r":0.49},{"p":"f","x":518,"k":0.49,"r":0.49},{"p":"f","x":524,"k":0.52,"r":0.52},{"p":"f","x":529,"k":0.565,"r":0.565},{"p":"f","x":534,"k":0.555,"r":0.555},{"p":"f","x":536,"k":0.3,"r":0.3},{"p":"f","x":537,"k":0.04,"r":0.04},{"p":"f","x":546,"k":0.06,"r":0.06},{"p":"f","x":555,"k":0.065,"r":0.065},{"p":"f","x":560,"k":0.06,"r":0.065},{"p":"f","x":564,"k":0.045,"r":0.07},{"p":"f","x":567,"k":0.03,"r":0.14},{"p":"f","x":570,"k":0.015,"r":0.195},{"p":"f","x":572,"k":0.008,"r":0.066},{"p":"f","x":576,"k":0,"r":0.08},{"p":"f","x":578,"k":0,"r":0},{"p":"f","x":590,"k":0,"r":0},{"p":"f","x":600,"k":0,"r":0}
]},
"vconcat":[
{"title":{"text":"Double Gauss 28 deg","subtitle":"(a)","style":["group-title","ta"],"offset":2},"width":574,"height":88,"data":{"name":"d"},"transform":[{"filter":"datum.p == 'a'"}],
"encoding":{"x":{"field":"x","type":"quantitative","scale":{"domain":[0,600],"nice":false,"zero":false},"axis":{"values":[0,100,200,300,400,500,600],"format":"d","title":"Pixel"}}},
"layer":[
{"mark":{"type":"line","strokeWidth":3},"encoding":{"y":{"field":"k","type":"quantitative","scale":{"domain":[0,1],"nice":false},"axis":{"values":[0,0.5,1],"format":"~g","title":"Photons (a.u.)"}},"color":{"datum":"Known Lens","scale":{"domain":["Known Lens","RTF"],"range":["#1a80e6","#d40000"]},"legend":{"title":null}}}},
{"mark":{"type":"line","strokeWidth":3},"encoding":{"y":{"field":"r","type":"quantitative","scale":{"domain":[0,1],"nice":false},"axis":{"values":[0,0.5,1],"format":"~g","title":"Photons (a.u.)"}},"color":{"datum":"RTF","scale":{"domain":["Known Lens","RTF"],"range":["#1a80e6","#d40000"]},"legend":{"title":null}}}}
]},
{"title":{"text":"Inverse Telephoto Lens","subtitle":"(b)","style":["group-title","tb"]},"width":574,"height":85,"data":{"name":"d"},"transform":[{"filter":"datum.p == 'b'"}],
"encoding":{"x":{"field":"x","type":"quantitative","scale":{"domain":[0,600],"nice":false,"zero":false},"axis":{"values":[0,100,200,300,400,500,600],"format":"d","title":"Pixel"}}},
"layer":[
{"mark":{"type":"line","strokeWidth":3},"encoding":{"y":{"field":"k","type":"quantitative","scale":{"domain":[0,1],"nice":false},"axis":{"values":[0,0.5,1],"format":"~g","title":"Photons (a.u.)"}},"color":{"datum":"Known Lens","scale":{"domain":["Known Lens","RTF"],"range":["#1a80e6","#d40000"]},"legend":null}}},
{"mark":{"type":"line","strokeWidth":3},"encoding":{"y":{"field":"r","type":"quantitative","scale":{"domain":[0,1],"nice":false},"axis":{"values":[0,0.5,1],"format":"~g","title":"Photons (a.u.)"}},"color":{"datum":"RTF","scale":{"domain":["Known Lens","RTF"],"range":["#1a80e6","#d40000"]},"legend":null}}}
]},
{"title":{"text":"Petzval Lens","subtitle":"(c)","style":["group-title","tc"]},"width":574,"height":85,"data":{"name":"d"},"transform":[{"filter":"datum.p == 'c'"}],
"encoding":{"x":{"field":"x","type":"quantitative","scale":{"domain":[0,600],"nice":false,"zero":false},"axis":{"values":[0,100,200,300,400,500,600],"format":"d","title":"Pixel"}}},
"layer":[
{"mark":{"type":"line","strokeWidth":3},"encoding":{"y":{"field":"k","type":"quantitative","scale":{"domain":[0,1],"nice":false},"axis":{"values":[0,0.5,1],"format":"~g","title":"Photons (a.u.)"}},"color":{"datum":"Known Lens","scale":{"domain":["Known Lens","RTF"],"range":["#1a80e6","#d40000"]},"legend":null}}},
{"mark":{"type":"line","strokeWidth":3},"encoding":{"y":{"field":"r","type":"quantitative","scale":{"domain":[0,1],"nice":false},"axis":{"values":[0,0.5,1],"format":"~g","title":"Photons (a.u.)"}},"color":{"datum":"RTF","scale":{"domain":["Known Lens","RTF"],"range":["#1a80e6","#d40000"]},"legend":null}}}
]},
{"title":{"text":"Cooke 40 deg","subtitle":"(d)","style":["group-title","td"]},"width":574,"height":85,"data":{"name":"d"},"transform":[{"filter":"datum.p == 'd'"}],
"encoding":{"x":{"field":"x","type":"quantitative","scale":{"domain":[0,600],"nice":false,"zero":false},"axis":{"values":[0,100,200,300,400,500,600],"format":"d","title":"Pixel"}}},
"layer":[
{"mark":{"type":"line","strokeWidth":3},"encoding":{"y":{"field":"k","type":"quantitative","scale":{"domain":[0,1],"nice":false},"axis":{"values":[0,0.5,1],"format":"~g","title":"Photons (a.u.)"}},"color":{"datum":"Known Lens","scale":{"domain":["Known Lens","RTF"],"range":["#1a80e6","#d40000"]},"legend":null}}},
{"mark":{"type":"line","strokeWidth":3},"encoding":{"y":{"field":"r","type":"quantitative","scale":{"domain":[0,1],"nice":false},"axis":{"values":[0,0.5,1],"format":"~g","title":"Photons (a.u.)"}},"color":{"datum":"RTF","scale":{"domain":["Known Lens","RTF"],"range":["#1a80e6","#d40000"]},"legend":null}}}
]},
{"title":{"text":"Tessar","subtitle":"(e)","style":["group-title","te"]},"width":574,"height":85,"data":{"name":"d"},"transform":[{"filter":"datum.p == 'e'"}],
"encoding":{"x":{"field":"x","type":"quantitative","scale":{"domain":[0,600],"nice":false,"zero":false},"axis":{"values":[0,100,200,300,400,500,600],"format":"d","title":"Pixel"}}},
"layer":[
{"mark":{"type":"line","strokeWidth":3},"encoding":{"y":{"field":"k","type":"quantitative","scale":{"domain":[0,1],"nice":false},"axis":{"values":[0,0.5,1],"format":"~g","title":"Photons (a.u.)"}},"color":{"datum":"Known Lens","scale":{"domain":["Known Lens","RTF"],"range":["#1a80e6","#d40000"]},"legend":null}}},
{"mark":{"type":"line","strokeWidth":3},"encoding":{"y":{"field":"r","type":"quantitative","scale":{"domain":[0,1],"nice":false},"axis":{"values":[0,0.5,1],"format":"~g","title":"Photons (a.u.)"}},"color":{"datum":"RTF","scale":{"domain":["Known Lens","RTF"],"range":["#1a80e6","#d40000"]},"legend":null}}}
]},
{"title":{"text":"Wide angle 200 deg","subtitle":"(f)","style":["group-title","tf"]},"width":574,"height":85,"data":{"name":"d"},"transform":[{"filter":"datum.p == 'f'"}],
"encoding":{"x":{"field":"x","type":"quantitative","scale":{"domain":[0,600],"nice":false,"zero":false},"axis":{"values":[0,100,200,300,400,500,600],"format":"d","title":"Pixel"}}},
"layer":[
{"mark":{"type":"line","strokeWidth":3},"encoding":{"y":{"field":"k","type":"quantitative","scale":{"domain":[0,1],"nice":false},"axis":{"values":[0,0.5,1],"format":"~g","title":"Photons (a.u.)"}},"color":{"datum":"Known Lens","scale":{"domain":["Known Lens","RTF"],"range":["#1a80e6","#d40000"]},"legend":null}}},
{"mark":{"type":"line","strokeWidth":3},"encoding":{"y":{"field":"r","type":"quantitative","scale":{"domain":[0,1],"nice":false},"axis":{"values":[0,0.5,1],"format":"~g","title":"Photons (a.u.)"}},"color":{"datum":"RTF","scale":{"domain":["Known Lens","RTF"],"range":["#1a80e6","#d40000"]},"legend":null}}}
]}
]
}
